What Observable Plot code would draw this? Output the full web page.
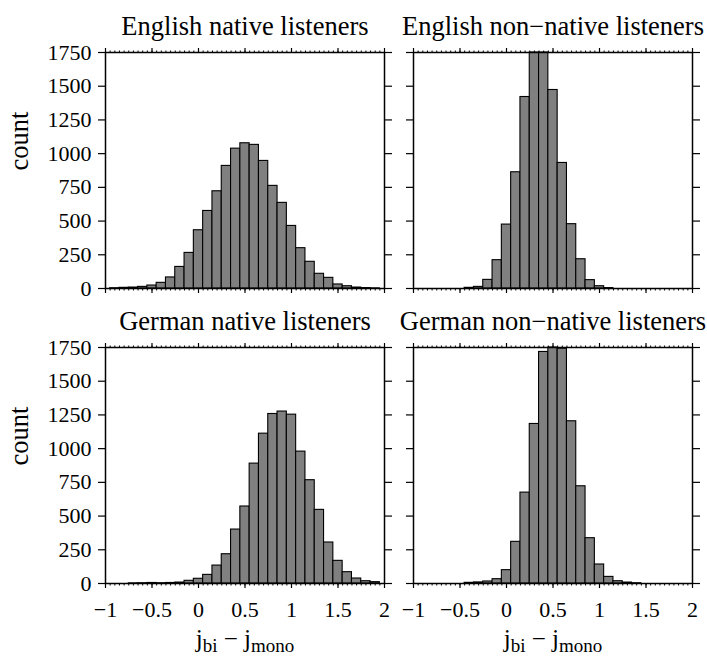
<!DOCTYPE html>
<html>
<head>
<meta charset="utf-8">
<script src="https://cdn.jsdelivr.net/npm/d3@7"></script>
<script src="https://cdn.jsdelivr.net/npm/@observablehq/plot@0.6"></script>
<style>
  html, body { margin: 0; padding: 0; background: white; }
  svg { display: block; }
</style>
</head>
<body>
<div id="chart"></div>
<script>
// Bin centres (bin width 0.1)
const bins = [-0.9,-0.8,-0.7,-0.6,-0.5,-0.4,-0.3,-0.2,-0.1,0,0.1,0.2,0.3,0.4,0.5,0.6,0.7,0.8,0.9,1.0,1.1,1.2,1.3,1.4,1.5,1.6,1.7,1.8,1.9];
const englishNative    = [2,5,7,12,22,42,82,160,264,432,575,721,909,1037,1077,1065,946,761,635,464,299,198,109,79,30,17,7,3,1];
const englishNonNative = [0,0,0,0,0,5,12,64,210,474,862,1420,1880,1890,1472,931,477,217,62,17,3,0,0,0,0,0,0,0,0];
const germanNative     = [0,0,1,2,4,2,4,7,20,35,64,133,217,400,571,889,1111,1257,1275,1252,978,766,546,304,168,84,37,17,10];
const germanNonNative  = [0,0,0,0,0,5,8,15,32,99,309,674,1183,1717,1800,1741,1203,721,336,141,49,17,7,2,0,0,0,0,0];

const languages = ["English", "German"];
const groups = ["native", "non\u2212native"];
const panelTitles = [
  ["English", "native", "English native listeners"],
  ["English", "non\u2212native", "English non\u2212native listeners"],
  ["German", "native", "German native listeners"],
  ["German", "non\u2212native", "German non\u2212native listeners"]
];
const xTicks = [-1, -0.5, 0, 0.5, 1, 1.5, 2];
const yTicks = [0, 250, 500, 750, 1000, 1250, 1500, 1750];
const xMinor = d3.range(-20, 41).map(i => i / 20);
const binWidth = 0.1;
const yLabel = "count";
const xLabel = "jbi \u2212 jmono";

const series = [
  ["English", "native", englishNative],
  ["English", "non\u2212native", englishNonNative],
  ["German", "native", germanNative],
  ["German", "non\u2212native", germanNonNative]
];
const rows = [];
for (const [lang, grp, counts] of series) {
  bins.forEach((c, i) => {
    if (counts[i] > 0) rows.push({lang, grp, x1: c - binWidth / 2, x2: c + binWidth / 2, count: counts[i]});
  });
}
const panels = panelTitles.map(([lang, grp, title]) => ({lang, grp, title}));
const leftPanels = panels.filter(d => d.grp === "native");
const bottomPanels = panels.filter(d => d.lang === "German");

const fmtX = d => d < 0 ? "\u2212" + (-d) : String(d);
const tickOnly = {fill: "none", label: null, facetAnchor: null, stroke: "black", strokeWidth: 1.2};

const chart = Plot.plot({
  width: 707,
  height: 657,
  marginLeft: 105,
  marginRight: 15,
  marginTop: 52,
  marginBottom: 74,
  style: {fontFamily: "Liberation Serif", fontSize: "22px", color: "black", background: "white"},
  x: {domain: [-1, 2]},
  y: {domain: [0, 1750], clamp: true},
  fx: {domain: groups, paddingInner: 0.0942, paddingOuter: 0, axis: null},
  fy: {domain: languages, paddingInner: 0.2, paddingOuter: 0, axis: null},
  marks: [
    Plot.rectY(rows, {fx: "grp", fy: "lang", x1: "x1", x2: "x2", y: "count", fill: "#808080", stroke: "black", strokeWidth: 1.1}),
    Plot.frame({stroke: "black", strokeWidth: 1.5}),
    Plot.axisX(xTicks, {anchor: "bottom", tickSize: 5, ...tickOnly}),
    Plot.axisX(xTicks, {anchor: "top", tickSize: 5, ...tickOnly}),
    Plot.axisX(xMinor, {anchor: "bottom", tickSize: 2.5, ...tickOnly, strokeWidth: 1}),
    Plot.axisX(xMinor, {anchor: "top", tickSize: 2.5, ...tickOnly, strokeWidth: 1}),
    Plot.axisY(yTicks, {anchor: "left", tickSize: 7, ...tickOnly}),
    Plot.axisY(yTicks, {anchor: "right", tickSize: 7, ...tickOnly}),
    Plot.axisX(xTicks, {anchor: "bottom", tickSize: 0, tickPadding: 18, label: null, fontSize: 22, tickFormat: fmtX}),
    Plot.axisY(yTicks, {anchor: "left", tickSize: 0, tickPadding: 14, label: null, fontSize: 22, tickFormat: d => String(d)}),
    Plot.text(panels, {fx: "grp", fy: "lang", text: "title", frameAnchor: "top", lineAnchor: "bottom", dy: -18, fontSize: 26.5, fill: "black"}),
    Plot.text(leftPanels, {fx: "grp", fy: "lang", text: () => yLabel, frameAnchor: "left", dx: -86, rotate: -90, fontSize: 26.5, fill: "black"}),
    Plot.text(bottomPanels, {fx: "grp", fy: "lang", text: () => xLabel, frameAnchor: "bottom", lineAnchor: "bottom", dy: 63, fontSize: 25, fill: "black"})
  ]
});
document.getElementById("chart").appendChild(chart);

// Rebuild x label with subscripts
d3.select(chart).selectAll("text").filter(function() { return this.textContent === xLabel; }).each(function() {
  const t = d3.select(this);
  t.text("");
  t.append("tspan").text("j");
  t.append("tspan").attr("dy", 5).attr("font-size", 19).text("bi");
  t.append("tspan").attr("dy", -5).text(" \u2212 j");
  t.append("tspan").attr("dy", 5).attr("font-size", 19).text("mono");
});
</script>
</body>
</html>
